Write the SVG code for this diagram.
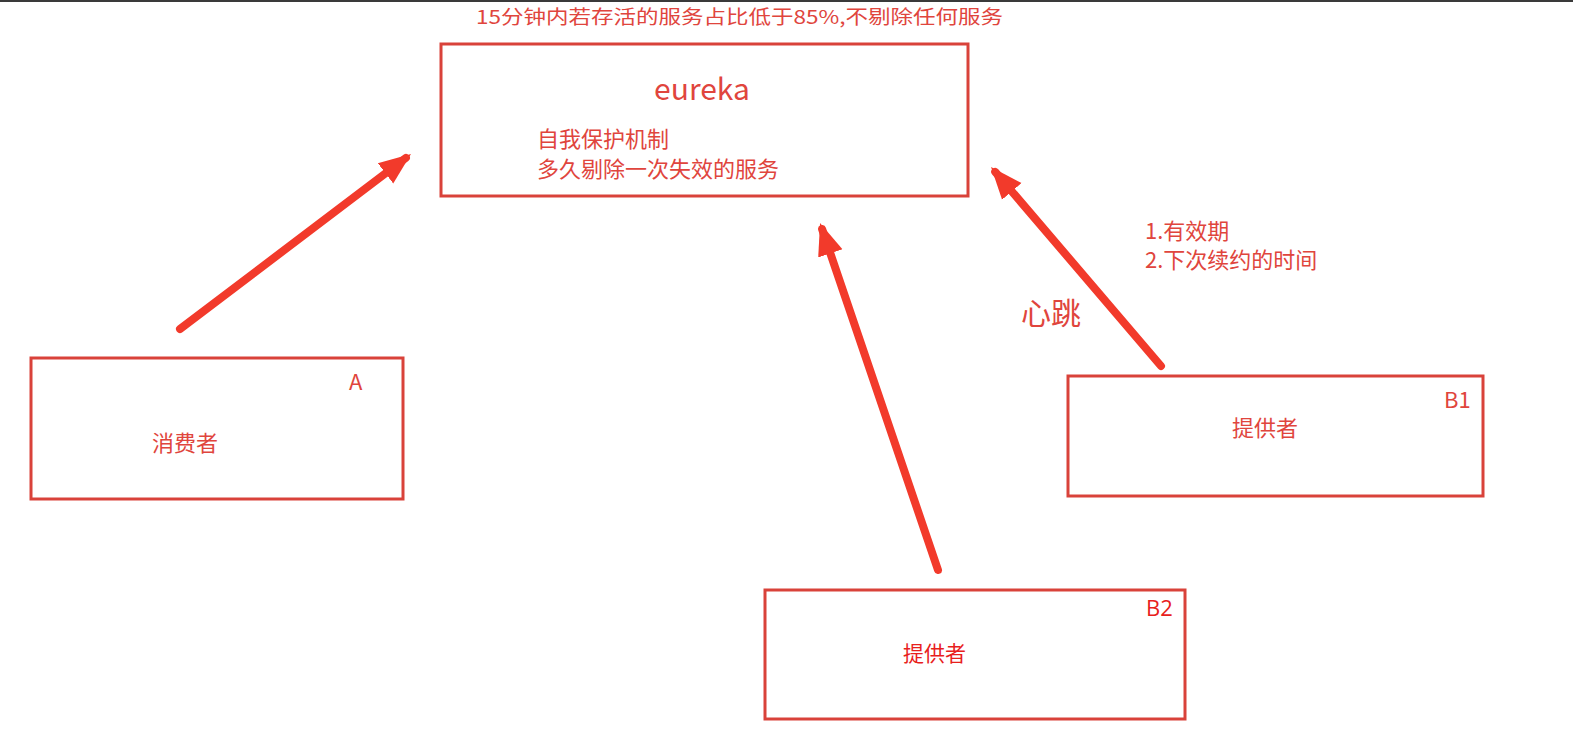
<svg xmlns="http://www.w3.org/2000/svg" width="1573" height="747" viewBox="0 0 1573 747">
<style>
.box{fill:#fff;stroke:#d9423a;stroke-width:3}
.t{font-family:"Noto Sans CJK SC","Noto Sans",sans-serif;fill:#e0453d}
.arr{stroke:#f23a2b;stroke-width:8;stroke-linecap:round;fill:none}
</style>
<defs>
<marker id="ah" viewBox="0 0 10 10" refX="8" refY="5" markerWidth="4" markerHeight="4" orient="auto" markerUnits="strokeWidth">
<path d="M0,1 L10,5 L0,9 z" fill="#f23a2b"/>
</marker>
</defs>
<rect width="1573" height="747" fill="#fff"/>
<rect x="0" y="0" width="1573" height="2" fill="#3a3a3a"/>
<text class="t" x="476" y="24" font-size="19" textLength="527" lengthAdjust="spacingAndGlyphs">15分钟内若存活的服务占比低于85%,不剔除任何服务</text>
<g id="eureka">
<rect class="box" x="441" y="44" width="527" height="152"/>
<text class="t" x="702" y="100" font-size="30" text-anchor="middle" font-family="'Open Sans',sans-serif">eureka</text>
<text class="t" x="537" y="147" font-size="22">自我保护机制</text>
<text class="t" x="537" y="177" font-size="22">多久剔除一次失效的服务</text>
</g>
<g id="consumerA">
<rect class="box" x="31" y="358" width="372" height="141"/>
<text class="t" x="349" y="390" font-size="22" font-family="'Open Sans',sans-serif">A</text>
<text class="t" x="152" y="451" font-size="22">消费者</text>
</g>
<g id="providerB1">
<rect class="box" x="1068" y="376" width="415" height="120"/>
<text class="t" x="1444" y="408" font-size="22" font-family="'Open Sans',sans-serif">B1</text>
<text class="t" x="1232" y="436" font-size="22">提供者</text>
</g>
<g id="providerB2">
<rect class="box" x="765" y="590" width="420" height="129"/>
<text x="1146" y="616" font-size="22" font-family="'Open Sans',sans-serif" fill="#e8201c">B2</text>
<text x="903" y="661" font-size="21" font-family="'Noto Sans CJK SC',sans-serif" fill="#e8201c">提供者</text>
</g>
<g id="connectors">
<line class="arr" x1="180" y1="329" x2="405.9" y2="157.9" marker-end="url(#ah)"/>
<line class="arr" x1="938" y1="570" x2="822.1" y2="229.1" marker-end="url(#ah)"/>
<line class="arr" x1="1161" y1="366" x2="995.2" y2="171.9" marker-end="url(#ah)"/>
<text class="t" x="1145" y="239" font-size="22">1.有效期</text>
<text class="t" x="1145" y="268" font-size="22">2.下次续约的时间</text>
<text class="t" x="1021" y="324" font-size="30">心跳</text>
</g>
</svg>
